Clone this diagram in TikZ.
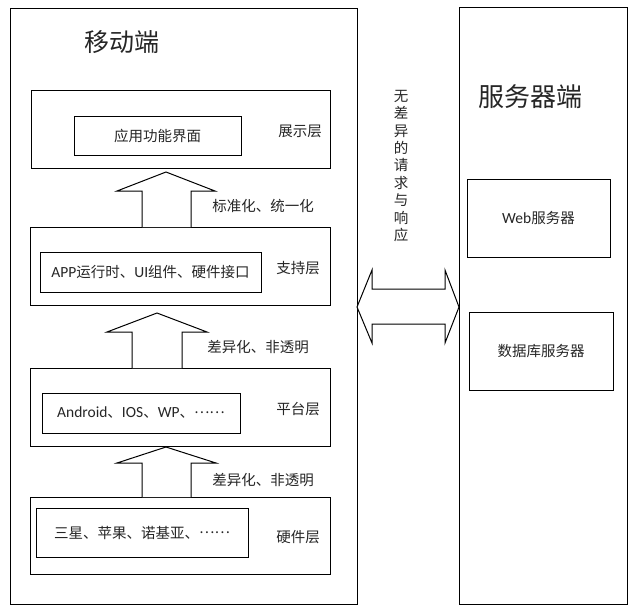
\documentclass[tikz,border=0pt]{standalone}
\usepackage{fontspec}
\setmainfont{Noto Sans CJK SC}
\newfontfamily\lat{Carlito}
\newcommand{\mydots}{\raisebox{0.33em}{……}}
\tikzset{
  box/.style={draw=black, line width=1pt, fill=white, inner sep=0pt, outer sep=0pt, anchor=center, font=\fontsize{14.5}{17}\selectfont, text=black!85},
  lbl/.style={inner sep=0pt, font=\fontsize{14.5}{17}\selectfont, text=black!85},
  ttl/.style={inner sep=0pt, font=\fontsize{25}{30}\selectfont, text=black!85},
  blk/.style={draw=black, line width=1pt, fill=white, line join=miter}
}
\begin{document}
\begin{tikzpicture}[x=1pt,y=-1pt]
\useasboundingbox (0,0) rectangle (634,611);
% outer containers
\node[box, minimum width=347, minimum height=596] (mobile) at (183.5,306) {};
\node[box, minimum width=168, minimum height=597] (server) at (543,305.5) {};
\node[ttl] (mtitle) at (122,42) {移动端};
\node[ttl, font=\fontsize{26}{30}\selectfont] (stitle) at (530,97) {服务器端};
% layers
\node[box, minimum width=299, minimum height=78] (pres) at (180.5,129) {};
\node[box, minimum width=167, minimum height=39] (presin) at (157.5,135.5) {应用功能界面};
\node[lbl] (presl) at (300,131) {展示层};
\node[box, minimum width=300, minimum height=78] (supp) at (180,266) {};
\node[box, minimum width=221, minimum height=40] (suppin) at (150.5,272) {{\lat\fontsize{15.5}{17}\selectfont APP}运行时、{\lat\fontsize{15.5}{17}\selectfont UI}组件、硬件接口};
\node[lbl] (suppl) at (298,268) {支持层};
\node[box, minimum width=300, minimum height=78] (plat) at (180,407) {};
\node[box, minimum width=198, minimum height=40] (platin) at (141,413) {{\lat\fontsize{15.5}{17}\selectfont Android}、{\lat\fontsize{15.5}{17}\selectfont IOS}、{\lat\fontsize{15.5}{17}\selectfont WP}、\mydots};
\node[lbl] (platl) at (298,409) {平台层};
\node[box, minimum width=300, minimum height=77] (hard) at (180,535.5) {};
\node[box, minimum width=212, minimum height=49] (hardin) at (142,532.5) {三星、苹果、诺基亚、\mydots};
\node[lbl] (hardl) at (298,537) {硬件层};
% block arrows
\draw[blk] (142,227) -- (142,191) -- (117,191) -- (166,172) -- (215,191) -- (191,191) -- (191,227);
\draw[blk] (132,368) -- (132,332) -- (107,332) -- (157,313) -- (207,332) -- (182,332) -- (182,368);
\draw[blk] (142,497) -- (142,463) -- (117,463) -- (166,447) -- (216,463) -- (191,463) -- (191,497);
\node[lbl] (a1l) at (263,206) {标准化、统一化};
\node[lbl] (a2l) at (258,347) {差异化、非透明};
\node[lbl] (a3l) at (263,480) {差异化、非透明};
% server boxes
\node[box, minimum width=143, minimum height=78] (web) at (538.5,218) {{\lat\fontsize{15.5}{17}\selectfont Web}服务器};
\node[box, minimum width=144, minimum height=78] (db) at (541,351) {数据库服务器};
% double arrow
\draw[blk] (mobile.east |- 0,307) -- (372,270) -- (372,289) -- (445,289) -- (445,270) -- (server.west |- 0,307) -- (445,343) -- (445,324) -- (372,324) -- (372,343) -- cycle;
\node[lbl, align=center, font=\fontsize{14.5}{17.4}\selectfont] (vtxt) at (401,166) {无\\差\\异\\的\\请\\求\\与\\响\\应};
\end{tikzpicture}
\end{document}
